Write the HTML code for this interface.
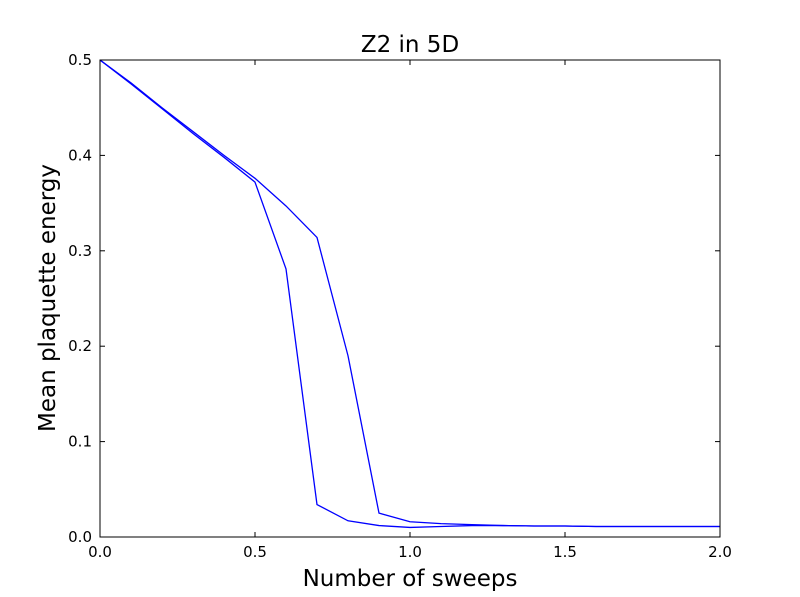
<!DOCTYPE html>
<html><head><meta charset="utf-8"><style>
body{margin:0;background:#fff;}
svg{display:block;font-family:"DejaVu Sans","Liberation Sans",sans-serif;}
</style></head><body>
<svg id="chart" width="800" height="597">
<rect x="0" y="0" width="800" height="597" fill="#fff"/>
<text x="410" y="52" font-size="23" text-anchor="middle">Z2 in 5D</text>
<text x="410" y="586" font-size="23" text-anchor="middle">Number of sweeps</text>
<text transform="translate(55,298) rotate(-90)" font-size="23" text-anchor="middle">Mean plaquette energy</text>
<g id="ticks"></g>
<g id="series"></g>
<rect x="100" y="60" width="620" height="477" fill="none" stroke="#000" stroke-width="1"/>
</svg>
<script>
const xTicks=[0,0.5,1.0,1.5,2.0];
const xTickLabels=["0.0","0.5","1.0","1.5","2.0"];
const yTicks=[0,0.1,0.2,0.3,0.4,0.5];
const yTickLabels=["0.0","0.1","0.2","0.3","0.4","0.5"];
const sweepsA=[0,0.1,0.2,0.3,0.4,0.5,0.6,0.7,0.8,0.9,1.0,1.1,1.2,1.3,1.4,1.5,1.6,1.7,1.8,1.9,2.0];
const energyA=[0.5,0.476,0.45,0.425,0.4,0.376,0.347,0.314,0.19,0.025,0.016,0.014,0.013,0.012,0.0115,0.0115,0.011,0.011,0.011,0.011,0.011];
const sweepsB=[0,0.1,0.2,0.3,0.4,0.5,0.6,0.7,0.8,0.9,1.0,1.1,1.2,1.3,1.4,1.5,1.6,1.7,1.8,1.9,2.0];
const energyB=[0.5,0.475,0.449,0.423,0.398,0.372,0.281,0.034,0.017,0.012,0.010,0.011,0.012,0.012,0.0115,0.0115,0.011,0.011,0.011,0.011,0.011];
const X0=100,X1=720,Y0=537,Y1=60;
const xs=v=>X0+(v-0)/(2-0)*(X1-X0);
const ys=v=>Y0-(v-0)/(0.5-0)*(Y0-Y1);
const NS="http://www.w3.org/2000/svg";
const tg=document.getElementById('ticks');
function mk(tag,attrs,parent){const e=document.createElementNS(NS,tag);for(const k in attrs)e.setAttribute(k,attrs[k]);parent.appendChild(e);return e;}
xTicks.forEach((t,i)=>{
  const x=xs(t);
  const a=mk('line',{x1:x,x2:x,y1:Y0,y2:Y0-5,stroke:'#000'},tg);
  
  
  const b=mk('line',{x1:x,x2:x,y1:Y1,y2:Y1+5,stroke:'#000'},tg);
  
  
  const l=mk('text',{x:x,y:Y0+20,'font-size':15,'text-anchor':'middle'},tg);
  l.textContent=xTickLabels[i];
  
  
});
yTicks.forEach((t,i)=>{
  const y=ys(t);
  const a=mk('line',{x1:X0,x2:X0+5,y1:y,y2:y,stroke:'#000'},tg);
  
  
  const b=mk('line',{x1:X1,x2:X1-5,y1:y,y2:y,stroke:'#000'},tg);
  
  
  const l=mk('text',{x:X0-8,y:y+5,'font-size':15,'text-anchor':'end'},tg);
  l.textContent=yTickLabels[i];
  
  
});
const sg=document.getElementById('series');
function line(xsArr,ysArr,name){
  const p=mk('polyline',{points:xsArr.map((v,i)=>xs(v)+','+ys(ysArr[i])).join(' '),fill:'none',stroke:'#0000ff','stroke-width':1.3},sg);
  
  
}
line(sweepsA,energyA,'series-a-line');
line(sweepsB,energyB,'series-b-line');
</script>
</body></html>
